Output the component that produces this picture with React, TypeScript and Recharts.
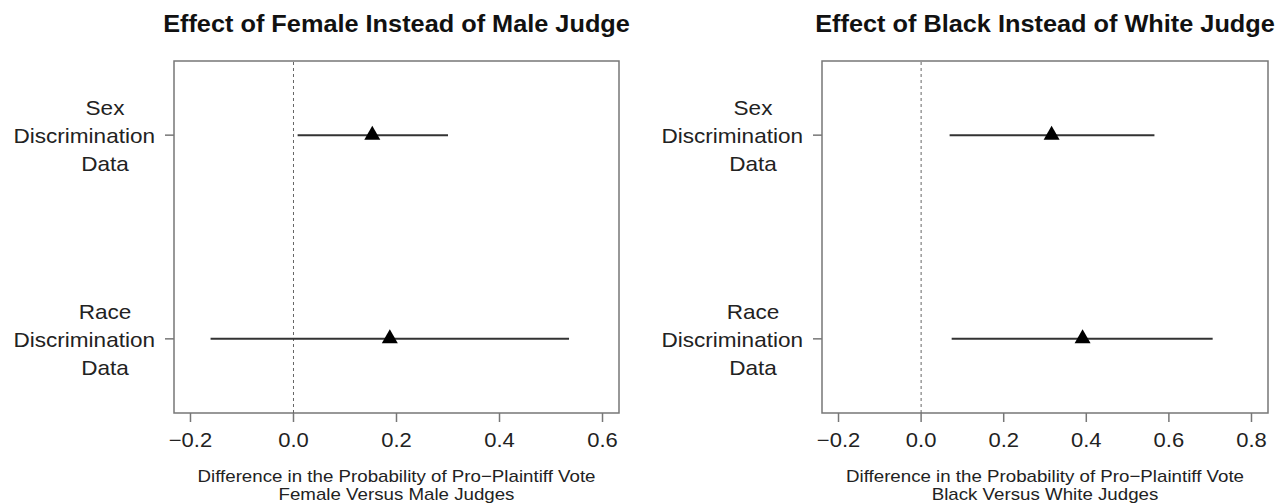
import React from "react";
import {
  ScatterChart,
  Scatter,
  XAxis,
  YAxis,
  ErrorBar,
  ReferenceLine,
  ReferenceArea,
} from "recharts";

const FONT = '"Liberation Sans", Arial, Helvetica, sans-serif';
const SX = 1.1;
const BOX_STROKE = "#777";
const BAR_STROKE = "#333";

// rows, top to bottom
const ROW_LABELS = [
  ["Sex", "Discrimination", "Data"],
  ["Race", "Discrimination", "Data"],
];
const ROW_POS = [2, 1];
const Y_DOMAIN: [number, number] = [0.636, 2.364];

// female vs male judges
const FEMALE_EST = [0.153, 0.187];
const FEMALE_LO = [0.008, -0.161];
const FEMALE_HI = [0.3, 0.535];
const FEMALE_TICKS = [-0.2, 0, 0.2, 0.4, 0.6];
const FEMALE_DOMAIN: [number, number] = [-0.232, 0.632];

// black vs white judges
const BLACK_EST = [0.316, 0.391];
const BLACK_LO = [0.069, 0.074];
const BLACK_HI = [0.565, 0.706];
const BLACK_TICKS = [-0.2, 0, 0.2, 0.4, 0.6, 0.8];
const BLACK_DOMAIN: [number, number] = [-0.24, 0.84];

const buildRows = (est: number[], lo: number[], hi: number[]) =>
  est.map((v, i) => ({ x: v, y: ROW_POS[i], err: [v - lo[i], hi[i] - v] }));

const fmt = (v: number) => v.toFixed(1).replace("-", "\u2212");

function XTick(props: any) {
  const { x, y, payload } = props;
  return (
    <text
      transform={`translate(${x},${y + 18}) scale(${SX},1)`}
      textAnchor="middle"
      dominantBaseline="central"
      fontFamily={FONT}
      fontSize={20}
      fill="#222"
    >
      {fmt(payload.value)}
    </text>
  );
}

function YTick(props: any) {
  const { x, y, payload } = props;
  const idx = ROW_POS.indexOf(payload.value);
  const lines = ROW_LABELS[idx] || [];
  const offs = [-26.5, 1.5, 29];
  return (
    <g>
      {lines.map((t, i) => {
        const wide = i === 1;
        return (
          <text
            key={i}
            transform={`translate(${wide ? x - 10 : x - 60},${y + offs[i]}) scale(${SX},1)`}
            textAnchor={wide ? "end" : "middle"}
            dominantBaseline="central"
            fontFamily={FONT}
            fontSize={20.5}
            fill="#222"
          >
            {t}
          </text>
        );
      })}
    </g>
  );
}

function Triangle(props: any) {
  const { cx, cy } = props;
  return (
    <polygon
      points={`${cx},${cy - 9.5} ${cx - 8},${cy + 4.5} ${cx + 8},${cy + 4.5}`}
      fill="#000"
    />
  );
}

type PanelProps = {
  left: number;
  width: number;
  yAxisWidth: number;
  rightMargin: number;
  title: string;
  xTitle: string[];
  domain: [number, number];
  ticks: number[];
  rows: { x: number; y: number; err: number[] }[];
};

function Panel(p: PanelProps) {
  const boxLeft = p.yAxisWidth;
  const boxWidth = p.width - p.yAxisWidth - p.rightMargin;
  return (
    <div style={{ position: "absolute", left: p.left, top: 0, width: p.width, height: 503 }}>
      <div
        style={{
          position: "absolute",
          left: boxLeft,
          width: boxWidth,
          top: 10,
          textAlign: "center",
          fontFamily: FONT,
          fontWeight: "bold",
          fontSize: 23,
          lineHeight: "28px",
          color: "#111",
          whiteSpace: "nowrap",
          transform: `scaleX(${SX})`,
        }}
      >
        {p.title}
      </div>
      <ScatterChart
        width={p.width}
        height={503}
        margin={{ top: 61, right: p.rightMargin, bottom: 0, left: 0 }}
      >
        <XAxis
          type="number"
          dataKey="x"
          domain={p.domain}
          ticks={p.ticks}
          allowDataOverflow
          height={90}
          tickSize={9}
          tickMargin={0}
          axisLine={false}
          tickLine={{ stroke: BOX_STROKE, strokeWidth: 1.5 }}
          tick={<XTick />}
          interval={0}
        />
        <YAxis
          type="number"
          dataKey="y"
          domain={Y_DOMAIN}
          ticks={ROW_POS}
          allowDataOverflow
          width={p.yAxisWidth}
          tickSize={9}
          tickMargin={0}
          axisLine={false}
          tickLine={{ stroke: BOX_STROKE, strokeWidth: 1.5 }}
          tick={<YTick />}
          interval={0}
        />
        <ReferenceArea
          x1={p.domain[0]}
          x2={p.domain[1]}
          y1={Y_DOMAIN[0]}
          y2={Y_DOMAIN[1]}
          fill="none"
          stroke={BOX_STROKE}
          strokeWidth={1.5}
          fillOpacity={0}
        />
        <ReferenceLine x={0} stroke="#666" strokeDasharray="3 3" strokeWidth={1} />
        <Scatter data={p.rows} shape={<Triangle />} isAnimationActive={false}>
          <ErrorBar
            dataKey="err"
            direction="x"
            width={0}
            stroke={BAR_STROKE}
            strokeWidth={2}
            isAnimationActive={false}
          />
        </Scatter>
      </ScatterChart>
      <div
        style={{
          position: "absolute",
          left: boxLeft,
          width: boxWidth,
          top: 468,
          textAlign: "center",
          fontFamily: FONT,
          fontSize: 17,
          lineHeight: "18.3px",
          color: "#222",
          whiteSpace: "nowrap",
          transform: `scaleX(${SX})`,
        }}
      >
        {p.xTitle.map((t, i) => (
          <div key={i}>{t}</div>
        ))}
      </div>
    </div>
  );
}

export default function App() {
  return (
    <div
      style={{
        position: "absolute",
        left: 0,
        top: 0,
        width: 1278,
        height: 503,
        background: "#fff",
        overflow: "hidden",
      }}
    >
      <Panel
        left={0}
        width={640}
        yAxisWidth={174}
        rightMargin={21}
        title="Effect of Female Instead of Male Judge"
        xTitle={["Difference in the Probability of Pro\u2212Plaintiff Vote", "Female Versus Male Judges"]}
        domain={FEMALE_DOMAIN}
        ticks={FEMALE_TICKS}
        rows={buildRows(FEMALE_EST, FEMALE_LO, FEMALE_HI)}
      />
      <Panel
        left={640}
        width={638}
        yAxisWidth={182}
        rightMargin={10}
        title="Effect of Black Instead of White Judge"
        xTitle={["Difference in the Probability of Pro\u2212Plaintiff Vote", "Black Versus White Judges"]}
        domain={BLACK_DOMAIN}
        ticks={BLACK_TICKS}
        rows={buildRows(BLACK_EST, BLACK_LO, BLACK_HI)}
      />
    </div>
  );
}
